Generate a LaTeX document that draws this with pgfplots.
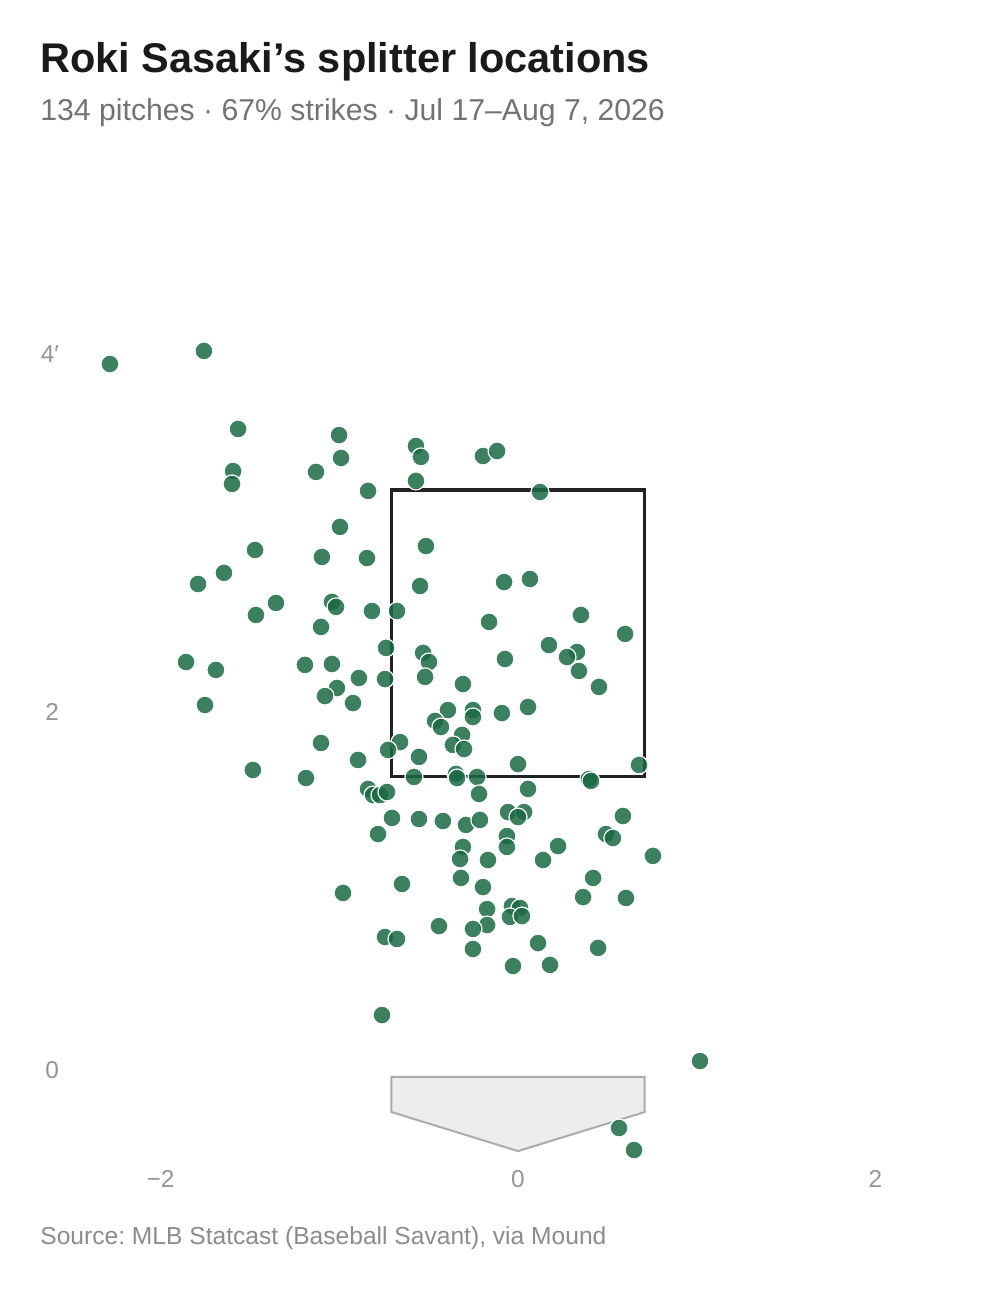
\documentclass[border=0pt]{standalone}
\usepackage{pgfplots}
\pgfplotsset{compat=1.18}
\usepackage{fontspec}
\setmainfont{Liberation Sans}
\frenchspacing
\definecolor{mk}{RGB}{27,106,68}
\definecolor{titlec}{RGB}{26,26,26}
\definecolor{subc}{RGB}{115,115,115}
\definecolor{tickc}{RGB}{150,150,150}
\definecolor{srcc}{RGB}{140,140,140}
\definecolor{platefill}{RGB}{236,238,237}
\definecolor{platedraw}{RGB}{170,172,171}
\definecolor{zonec}{RGB}{34,34,34}
\begin{document}
\begin{tikzpicture}[x=0.5pt,y=0.5pt]
\useasboundingbox[fill=white] (0,0) rectangle (1005,1289);
\node[anchor=base west,inner sep=0,font=\bfseries\fontsize{20.75}{24}\selectfont,text=titlec] at (40,1216) {Roki Sasaki’s splitter locations};
\node[anchor=base west,inner sep=0,font=\fontsize{15.1}{18}\selectfont,text=subc] at (40,1168) {134 pitches · 67\% strikes · Jul 17–Aug 7, 2026};
\node[anchor=base west,inner sep=0,font=\fontsize{12.3}{14}\selectfont,text=srcc] at (40,44) {Source: MLB Statcast (Baseball Savant), via Mound};
\begin{axis}[
  at={(35.5625pt,64.75pt)}, anchor=south west,
  x=89.375pt, y=89.5pt,
  xmin=-2.5, xmax=2.5, ymin=-0.5, ymax=5,
  axis line style={draw=none},
  major tick length=0pt,
  xtick={-2,0,2}, xticklabels={−2,0,2},
  ytick={0,2,4}, yticklabels={0,2,4′},
  tick label style={font=\fontsize{12.2}{14}\selectfont, text=tickc},
  /pgf/number format/assume math mode=true,
  xticklabel style={yshift=-2pt},
  yticklabel style={xshift=-2.5pt},
  clip=false,
]
\draw[fill=platefill, draw=platedraw, line width=1pt] (axis cs:-0.708,-0.039) -- (axis cs:0.708,-0.039) -- (axis cs:0.708,-0.235) -- (axis cs:0,-0.453) -- (axis cs:-0.708,-0.235) -- cycle;
\addplot[only marks, mark=*, mark size=4.5pt, mark options={fill=mk, fill opacity=0.85, draw=white, line width=0.6pt}] table {
x y
-2.283 3.944
-1.757 4.017
-1.566 3.581
-1.001 3.547
-1.594 3.346
-1.600 3.274
-1.130 3.341
-0.990 3.419
-0.839 3.235
-0.571 3.486
-0.543 3.425
-0.571 3.291
-0.196 3.430
-0.117 3.458
0.123 3.229
-0.996 3.034
-1.471 2.905
-0.515 2.927
-1.097 2.866
-0.845 2.860
-1.645 2.777
-1.790 2.715
-0.078 2.726
0.067 2.743
-0.548 2.704
-1.354 2.609
-1.466 2.542
-1.041 2.615
-1.018 2.587
-0.817 2.564
-0.677 2.564
0.352 2.542
-0.162 2.503
0.599 2.436
-1.102 2.475
-0.738 2.358
0.173 2.374
-0.531 2.330
-0.498 2.279
0.330 2.335
0.274 2.307
-0.073 2.296
-1.857 2.279
-1.690 2.235
-1.192 2.263
-1.041 2.268
0.341 2.229
-0.520 2.196
-0.890 2.190
-0.744 2.184
-0.308 2.156
0.453 2.140
-1.013 2.134
-1.080 2.089
-0.923 2.050
-1.751 2.039
0.056 2.028
-0.252 2.011
-0.392 2.011
-0.090 1.994
-0.252 1.972
-0.464 1.950
-0.431 1.916
-0.313 1.872
-0.364 1.816
-0.302 1.793
-1.102 1.827
-0.660 1.832
-0.727 1.788
-0.554 1.749
-0.895 1.732
0.000 1.709
0.677 1.704
-1.483 1.676
-1.186 1.631
-0.582 1.637
-0.347 1.654
-0.341 1.631
-0.229 1.637
0.397 1.626
0.408 1.615
-0.839 1.570
-0.811 1.536
-0.772 1.536
-0.733 1.553
0.056 1.570
-0.218 1.542
-0.056 1.441
0.034 1.441
0.000 1.413
-0.705 1.408
-0.554 1.402
-0.420 1.391
-0.291 1.369
-0.213 1.397
0.587 1.419
-0.783 1.318
0.492 1.318
0.531 1.296
-0.062 1.307
-0.062 1.246
-0.308 1.246
0.224 1.251
-0.324 1.179
-0.168 1.173
0.140 1.173
0.755 1.196
-0.319 1.073
0.420 1.073
-0.649 1.039
-0.196 1.022
-0.979 0.989
0.364 0.966
0.604 0.961
-0.173 0.899
-0.034 0.916
0.011 0.905
-0.045 0.855
0.022 0.860
-0.173 0.810
-0.442 0.804
-0.252 0.788
-0.744 0.743
-0.677 0.732
0.112 0.709
0.448 0.682
-0.252 0.676
-0.028 0.581
0.179 0.587
-0.761 0.307
1.018 0.050
0.565 -0.324
0.649 -0.447
};
\draw[draw=zonec, line width=1.75pt] (axis cs:-0.708,1.639) rectangle (axis cs:0.708,3.239);
\end{axis}
\end{tikzpicture}
\end{document}
